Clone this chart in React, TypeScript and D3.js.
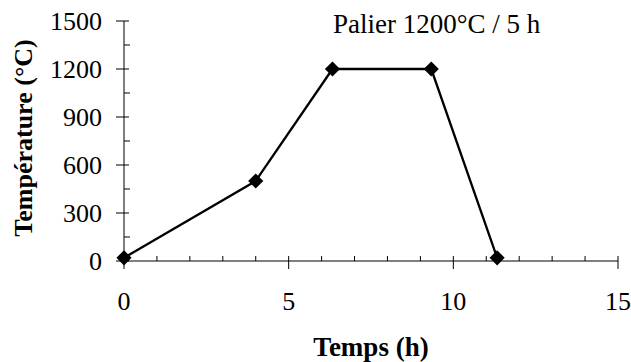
import React from "react";
import * as d3 from "d3";

const timesH = [0, 4, 6.33, 9.33, 11.33];
const temps = [20, 500, 1200, 1200, 20];
const xTicks = [0, 5, 10, 15];
const yTicks = [0, 300, 600, 900, 1200, 1500];
const xMinor = d3.range(0, 16, 1);
const yMinor = d3.range(150, 1500, 300);
const annotation = "Palier 1200°C / 5 h";
const xTitle = "Temps (h)";
const yTitle = "Température (°C)";

const W = 631;
const H = 362;
const FONT = "'Liberation Serif', 'Times New Roman', serif";

export default function App() {
  const x = d3.scaleLinear().domain([0, 15]).range([124, 618]);
  const y = d3.scaleLinear().domain([0, 1500]).range([261, 21]);
  const line = d3
    .line<number>()
    .x((_, i) => x(timesH[i]))
    .y((d) => y(d));
  const diamond = d3.symbol().type(d3.symbolSquare).size(115)();

  return (
    <svg
      width={W}
      height={H}
      style={{ position: "absolute", left: 0, top: 0, background: "#fff" }}
      fontFamily={FONT}
    >
      {/* axes */}
      <line x1={x(0)} x2={x(15)} y1={y(0)} y2={y(0)} stroke="#000" strokeWidth={1} />
      <line x1={x(0)} x2={x(0)} y1={y(0)} y2={y(1500)} stroke="#000" strokeWidth={1} />
      {xMinor.map((v) =>
        xTicks.includes(v) ? null : (
          <line key={"xm" + v} x1={x(v)} x2={x(v)} y1={y(0) - 5} y2={y(0)} stroke="#000" />
        )
      )}
      {xTicks.map((v) => (
        <g key={"x" + v}>
          <line x1={x(v)} x2={x(v)} y1={y(0) - 5} y2={y(0) + 8} stroke="#000" />
          <text x={x(v)} y={310} textAnchor="middle" fontSize={26}>
            {v}
          </text>
        </g>
      ))}
      {yMinor.map((v) => (
        <line key={"ym" + v} x1={x(0)} x2={x(0) + 6} y1={y(v)} y2={y(v)} stroke="#000" />
      ))}
      {yTicks.map((v) => (
        <g key={"y" + v}>
          <line x1={x(0) - 8} x2={x(0) + 5} y1={y(v)} y2={y(v)} stroke="#000" />
          <text x={102} y={y(v) + 8.5} textAnchor="end" fontSize={26}>
            {v}
          </text>
        </g>
      ))}
      {/* series */}
      <path d={line(temps) || ""} fill="none" stroke="#000" strokeWidth={2.3} />
      {temps.map((v, i) => (
        <path
          key={"m" + i}
          d={diamond || ""}
          transform={`translate(${x(timesH[i])},${y(v)}) rotate(45)`}
          fill="#000"
        />
      ))}
      {/* annotation */}
      <text x={333} y={33} fontSize={27}>
        {annotation}
      </text>
      {/* titles */}
      <text x={371} y={356} textAnchor="middle" fontSize={27} fontWeight="bold">
        {xTitle}
      </text>
      <text
        transform={`translate(32,138) rotate(-90)`}
        textAnchor="middle"
        fontSize={26}
        fontWeight="bold"
      >
        {yTitle}
      </text>
    </svg>
  );
}
